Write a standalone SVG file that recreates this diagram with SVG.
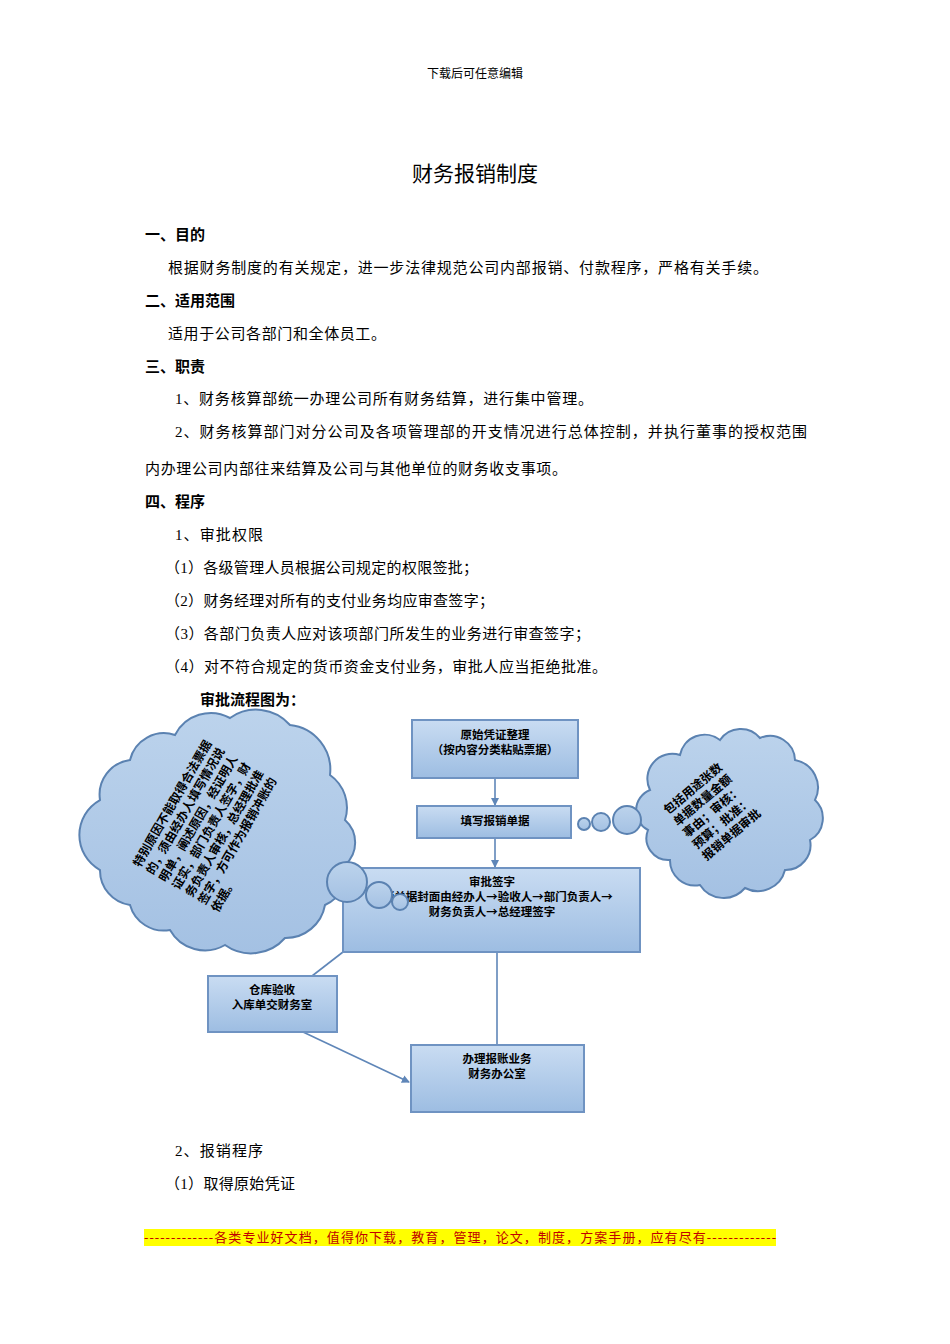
<svg xmlns="http://www.w3.org/2000/svg" width="950" height="1344" viewBox="0 0 950 1344">
<style>
.b{font-family:"Liberation Serif","Noto Sans CJK SC",serif;font-size:15px;fill:#000}
.h{font-family:"Noto Sans CJK SC",sans-serif;font-size:15px;font-weight:bold;fill:#000}
.n{font-family:"Noto Sans CJK SC",sans-serif;font-size:11.5px;font-weight:bold;fill:#000;text-anchor:middle}
.c{font-family:"Noto Sans CJK SC",sans-serif;font-size:12px;font-weight:bold;fill:#000}
.box{fill:url(#g);stroke:#6f93c2;stroke-width:2}
.cl{fill:url(#g2);stroke:#5b82b1;stroke-width:2}
.ln{stroke:#5f86b8;stroke-width:1.6;fill:none}
</style>
<defs>
<linearGradient id="g" x1="0" y1="0" x2="0" y2="1"><stop offset="0" stop-color="#c9dcf2"/><stop offset="1" stop-color="#9dbde2"/></linearGradient>
<linearGradient id="g2" x1="0" y1="0" x2="0" y2="1"><stop offset="0" stop-color="#bcd3ec"/><stop offset="1" stop-color="#a4c1e3"/></linearGradient>
<marker id="a" markerWidth="8" markerHeight="8" refX="7" refY="4" orient="auto" markerUnits="userSpaceOnUse"><path d="M0,0 L8,4 L0,8 z" fill="#5f86b8"/></marker>
</defs>
<rect width="950" height="1344" fill="#fff"/>
<text x="475" y="78" class="b" text-anchor="middle" style="font-size:12px">下载后可任意编辑</text>
<text x="475" y="181" class="b" text-anchor="middle" style="font-size:21px">财务报销制度</text>
<text x="145" y="240" class="h">一、目的</text>
<text x="168" y="273" class="b" textLength="600">根据财务制度的有关规定，进一步法律规范公司内部报销、付款程序，严格有关手续。</text>
<text x="145" y="306" class="h">二、适用范围</text>
<text x="168" y="339" class="b" textLength="218">适用于公司各部门和全体员工。</text>
<text x="145" y="372" class="h">三、职责</text>
<text x="175" y="404" class="b" textLength="418">1、财务核算部统一办理公司所有财务结算，进行集中管理。</text>
<text x="175" y="437" class="b" textLength="632">2、财务核算部门对分公司及各项管理部的开支情况进行总体控制，并执行董事的授权范围</text>
<text x="145" y="474" class="b" textLength="422">内办理公司内部往来结算及公司与其他单位的财务收支事项。</text>
<text x="145" y="507" class="h">四、程序</text>
<text x="175" y="540" class="b" textLength="88">1、审批权限</text>
<text x="165" y="573" class="b" textLength="313">（1）各级管理人员根据公司规定的权限签批；</text>
<text x="165" y="606" class="b" textLength="329">（2）财务经理对所有的支付业务均应审查签字；</text>
<text x="165" y="639" class="b" textLength="425">（3）各部门负责人应对该项部门所发生的业务进行审查签字；</text>
<text x="165" y="672" class="b" textLength="442">（4）对不符合规定的货币资金支付业务，审批人应当拒绝批准。</text>
<text x="200" y="705" class="h">审批流程图为：</text>

<g id="connectors">
<line x1="495" y1="778" x2="495" y2="805" class="ln" marker-end="url(#a)"/>
<line x1="495" y1="838" x2="495" y2="867" class="ln" marker-end="url(#a)"/>
<line x1="497" y1="952" x2="497" y2="1060" class="ln"/>
<line x1="343" y1="952" x2="312" y2="976" class="ln"/>
<line x1="303" y1="1032" x2="409" y2="1082" class="ln" marker-end="url(#a)"/>
</g>

<g id="box1"><rect x="412" y="720" width="166" height="58" class="box"/>
<text x="495" y="739" class="n">原始凭证整理</text><text x="495" y="754" class="n">（按内容分类粘贴票据）</text></g>
<g id="box2"><rect x="417" y="806" width="154" height="32" class="box"/>
<text x="495" y="825" class="n">填写报销单据</text></g>
<g id="box3"><rect x="343" y="868" width="297" height="84" class="box"/>
<text x="492" y="886" class="n">审批签字</text>
<text x="492" y="901" class="n">报销单据封面由经办人→验收人→部门负责人→</text>
<text x="492" y="916" class="n">财务负责人→总经理签字</text></g>
<g id="box4"><rect x="208" y="976" width="129" height="56" class="box"/>
<text x="272" y="994" class="n">仓库验收</text><text x="272" y="1009" class="n">入库单交财务室</text></g>
<g id="box5"><rect x="411" y="1045" width="173" height="67" class="box"/>
<text x="497" y="1063" class="n">办理报账业务</text><text x="497" y="1078" class="n">财务办公室</text></g>

<g id="cloud-left">
<path class="cl" d="M100,800 A35,35 0 0 1 130,760 A35,35 0 0 1 175,735 A40,40 0 0 1 230,718 A45,45 0 0 1 290,725 A45,45 0 0 1 330,775 A40,40 0 0 1 345,820 A30,30 0 0 1 345,865 A35,35 0 0 1 325,905 A40,40 0 0 1 285,938 A45,45 0 0 1 225,945 A40,40 0 0 1 170,930 A35,35 0 0 1 130,905 A35,35 0 0 1 100,870 A40,40 0 0 1 100,800 Z"/>
<g transform="translate(140,868) rotate(-60)" class="c">
<text x="0" y="0">特别原因不能取得合法票据</text>
<text x="0" y="15">的，须由经办人填写情况说</text>
<text x="0" y="30">明单，阐述原因，经证明人</text>
<text x="0" y="45">证实，部门负责人签字，财</text>
<text x="0" y="60">务负责人审核，总经理批准</text>
<text x="0" y="75">签字，方可作为报销冲账的</text>
<text x="0" y="90">依据。</text>
</g>
<circle cx="347" cy="882" r="20" class="cl"/>
<circle cx="379" cy="895" r="13" class="cl"/>
<circle cx="400" cy="902" r="8" class="cl"/>
</g>

<g id="cloud-right">
<path class="cl" d="M650,790 A25,25 0 0 1 680,755 A25,25 0 0 1 720,740 A25,25 0 0 1 760,738 A25,25 0 0 1 795,760 A28,28 0 0 1 815,800 A25,25 0 0 1 810,840 A25,25 0 0 1 785,870 A28,28 0 0 1 745,888 A28,28 0 0 1 700,885 A25,25 0 0 1 670,860 A22,22 0 0 1 648,830 A22,22 0 0 1 650,790 Z"/>
<g transform="translate(668,815) rotate(-40)" class="c">
<text x="0" y="0">包括用途张数</text>
<text x="0" y="15">单据数量金额</text>
<text x="0" y="30">事由；审核：</text>
<text x="0" y="45">预算；批准：</text>
<text x="0" y="60">报销单据审批</text>
</g>
<circle cx="584" cy="824" r="6" class="cl"/>
<circle cx="601" cy="822" r="9" class="cl"/>
<circle cx="627" cy="820" r="14" class="cl"/>
</g>

<text x="175" y="1156" class="b" textLength="88">2、报销程序</text>
<text x="165" y="1189" class="b" textLength="130">（1）取得原始凭证</text>
<rect x="144" y="1229" width="632" height="17" fill="#ffff00"/>
<text x="144" y="1242" class="b" textLength="632" style="font-size:13px;fill:#c00000">-------------各类专业好文档，值得你下载，教育，管理，论文，制度，方案手册，应有尽有-------------</text>
</svg>
